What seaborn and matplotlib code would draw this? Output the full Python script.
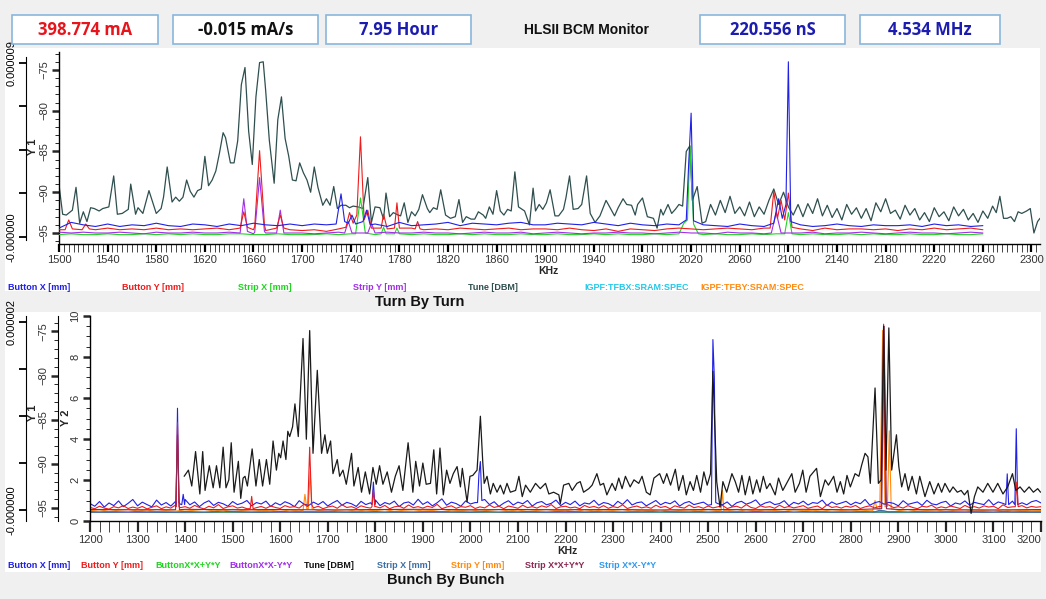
import numpy as np
import matplotlib
matplotlib.use("Agg")
import matplotlib.pyplot as plt
from matplotlib.patches import Rectangle
from matplotlib.ticker import MultipleLocator, FixedLocator
import seaborn as sns

sns.set_style("white")
plt.rcParams["font.family"] = ["Liberation Sans", "DejaVu Sans"]

# ---------------- header ----------------
header_values = ["398.774 mA", "-0.015 mA/s", "7.95 Hour", "220.556 nS", "4.534 MHz"]
header_title = "HLSII BCM Monitor"

# ---------------- Turn By Turn (top) ----------------
top_tune_f = [1500,1503,1506,1511,1514,1517,1520,1523,1526,1529,
              1533,1536,1541,1545,1548,1552,1557,1559,1563,1565,
              1569,1574,1580,1584,1586,1589,1593,1596,1599,1602,
              1605,1608,1611,1614,1617,1620,1623,1626,1629,1632,
              1635,1637,1641,1644,1647,1650,1653,1656,1659,1662,
              1665,1668,1670,1673,1677,1680,1683,1686,1689,1692,
              1695,1698,1701,1704,1707,1710,1713,1717,1720,1723,
              1726,1729,1732,1736,1739,1742,1746,1750,1754,1757,
              1760,1764,1767,1769,1772,1775,1779,1781,1784,1787,
              1790,1793,1796,1799,1803,1805,1808,1811,1814,1818,
              1822,1826,1829,1832,1835,1839,1842,1845,1849,1851,
              1854,1857,1860,1863,1866,1869,1872,1875,1878,1883,
              1887,1890,1892,1895,1898,1901,1904,1908,1911,1915,
              1917,1920,1923,1927,1930,1934,1937,1941,1945,1950,
              1953,1957,1960,1964,1967,1971,1974,1976,1980,1984,
              1989,1992,1995,1997,2001,2004,2007,2010,2013,2016,
              2019,2021,2025,2029,2032,2036,2040,2044,2048,2052,
              2056,2060,2064,2068,2072,2076,2080,2084,2088,2092,
              2096,2100,2104,2108,2112,2116,2120,2124,2128,2132,
              2136,2140,2144,2148,2152,2156,2160,2164,2168,2172,
              2176,2180,2184,2188,2192,2196,2200,2204,2208,2212,
              2216,2220,2224,2228,2232,2236,2240,2244,2248,2252,
              2256,2260,2264,2268,2271,2274,2277,2280,2283,2286,
              2289,2292,2296,2299,2302,2305,2307]
top_tune_db = [-89.1,-92.7,-92.8,-92.2,-89.4,-93.8,-92.4,-93.6,-91.9,-92.0,
               -92.3,-92.0,-91.8,-88.0,-92.7,-92.6,-92.1,-89.0,-92.7,-91.9,
               -92.6,-89.8,-92.6,-92.0,-90.6,-86.9,-91.2,-90.6,-91.1,-90.6,
               -88.5,-89.9,-90.6,-89.8,-89.6,-85.6,-89.2,-88.5,-87.4,-85.2,
               -82.7,-83.3,-86.4,-86.4,-83.7,-76.8,-74.7,-82.5,-86.6,-78.3,
               -74.1,-74.0,-77.5,-83.6,-88.9,-81.1,-78.3,-83.4,-85.6,-88.5,
               -88.6,-86.4,-87.6,-88.5,-90.0,-86.9,-89.4,-91.6,-90.8,-91.6,
               -89.3,-92.0,-91.6,-91.6,-91.9,-91.7,-91.8,-92.0,-88.2,-93.7,
               -91.8,-91.9,-93.3,-90.1,-93.0,-92.5,-92.8,-92.9,-91.3,-93.7,
               -92.4,-92.9,-92.1,-90.3,-92.0,-92.5,-91.9,-92.1,-89.7,-92.8,
               -93.2,-93.0,-90.9,-93.7,-93.0,-93.3,-93.3,-92.4,-92.8,-93.2,
               -91.8,-92.7,-89.8,-92.3,-92.8,-92.1,-92.3,-87.5,-91.8,-92.3,
               -94.0,-89.5,-92.3,-91.5,-92.1,-91.3,-89.7,-92.9,-92.9,-92.1,
               -90.7,-88.0,-92.1,-92.0,-91.5,-88.0,-92.6,-93.7,-92.9,-91.0,
               -91.8,-92.9,-91.9,-90.8,-91.5,-91.6,-92.8,-91.5,-90.7,-93.0,
               -93.2,-94.4,-92.1,-92.8,-91.5,-92.6,-92.1,-91.5,-91.7,-85.0,
               -84.3,-91.0,-89.3,-93.8,-93.6,-91.5,-92.8,-91.0,-92.5,-90.5,
               -92.6,-91.8,-92.9,-91.2,-93.0,-91.8,-92.7,-91.0,-89.6,-91.5,
               -90.0,-91.8,-92.8,-91.5,-93.0,-91.4,-92.6,-90.8,-92.9,-91.6,
               -93.1,-92.0,-93.4,-91.5,-92.7,-91.9,-93.2,-92.0,-93.5,-91.3,
               -92.4,-90.8,-92.6,-92.2,-93.3,-91.6,-92.8,-92.0,-93.4,-92.5,
               -93.6,-91.9,-93.0,-92.4,-93.5,-91.8,-92.9,-92.1,-93.4,-92.6,
               -93.7,-92.3,-93.2,-91.7,-92.5,-90.5,-93.2,-93.2,-93.0,-93.6,
               -92.4,-92.6,-92.3,-92.0,-95.0,-93.6,-93.2]

# baselines on a 10 kHz grid, 1500..2260 kHz
top_grid = np.arange(1500, 2270, 10)
top_bx_base = [-94.4,-93.7,-94.0,-94.2,-93.9,-94.2,-94.0,-94.1,-93.8,-94.1,
               -94.2,-93.9,-94.0,-94.2,-93.9,-94.1,-93.8,-94.0,-94.1,-93.9,
               -94.1,-93.9,-94.0,-93.8,-93.9,-94.0,-93.9,-94.2,-93.7,-94.1,
               -94.0,-93.9,-93.7,-94.1,-93.8,-93.9,-94.0,-93.8,-93.7,-94.0,
               -94.0,-93.8,-93.9,-94.0,-93.7,-93.9,-94.1,-93.8,-94.0,-94.1,
               -93.9,-94.0,-93.9,-94.0,-94.1,-94.2,-93.9,-94.1,-94.2,-94.0,
               -94.1,-94.0,-94.2,-94.1,-93.9,-94.1,-94.2,-94.0,-94.1,-94.1,
               -94.0,-94.2,-93.9,-94.1,-94.0,-94.2,-94.1]
top_by_base = [-94.6,-94.5,-94.3,-94.6,-94.4,-94.6,-94.5,-94.6,-94.4,-94.6,
               -94.5,-94.6,-94.5,-94.4,-94.6,-94.5,-94.6,-94.7,-94.5,-94.6,
               -94.7,-94.6,-94.8,-94.5,-94.6,-94.5,-94.4,-94.6,-94.5,-94.4,
               -94.6,-94.5,-94.6,-94.4,-94.5,-94.6,-94.5,-94.4,-94.6,-94.5,
               -94.5,-94.6,-94.4,-94.6,-94.7,-94.5,-94.8,-94.5,-94.6,-94.7,
               -94.5,-94.4,-94.5,-94.6,-94.5,-94.4,-94.5,-94.6,-94.4,-94.5,
               -94.6,-94.5,-94.7,-94.4,-94.6,-94.5,-94.5,-94.6,-94.5,-94.7,
               -94.5,-94.6,-94.4,-94.6,-94.5,-94.4,-94.6]
top_sx_base = [-95.2,-95.1,-95.2,-95.2,-95.1,-95.2,-95.2,-95.1,-95.2,-95.1,
               -95.2,-95.1,-95.2,-95.2,-95.1,-95.1,-95.2,-95.2,-95.1,-95.2,
               -95.2,-95.2,-95.1,-95.2,-95.1,-95.2,-95.2,-95.1,-95.2,-95.2,
               -95.1,-95.2,-95.2,-95.1,-95.2,-95.1,-95.2,-95.2,-95.1,-95.2,
               -95.2,-95.1,-95.2,-95.2,-95.1,-95.2,-95.1,-95.2,-95.2,-95.1,
               -95.2,-95.1,-95.2,-95.2,-95.1,-95.2,-95.2,-95.1,-95.2,-95.1,
               -95.2,-95.2,-95.1,-95.2,-95.2,-95.1,-95.2,-95.1,-95.2,-95.2,
               -95.1,-95.2,-95.2,-95.1,-95.2,-95.2,-95.1]
top_sy_base = [-94.9,-95.0,-94.9,-95.0,-95.0,-94.9,-95.0,-95.1,-94.9,-95.0,
               -95.0,-94.9,-95.0,-95.0,-94.9,-95.0,-95.1,-95.0,-94.9,-95.0,
               -95.0,-95.1,-95.0,-94.9,-95.0,-95.0,-95.1,-94.9,-95.0,-95.0,
               -94.9,-95.0,-95.0,-95.1,-95.0,-94.9,-95.0,-95.0,-94.9,-95.1,
               -95.0,-94.9,-95.0,-95.1,-95.0,-95.0,-94.9,-95.0,-95.0,-95.1,
               -95.0,-94.9,-95.0,-95.0,-95.1,-94.9,-95.0,-95.0,-95.1,-94.9,
               -95.0,-95.0,-94.9,-95.1,-95.0,-95.0,-94.9,-95.0,-95.1,-95.0,
               -94.9,-95.0,-95.0,-95.1,-95.0,-94.9,-95.0]

# spectral lines (frequency groups / values)
top_bx_pk_f = [[1728,1732,1735],[1738,1741,1744],[1750,1753,1756],
               [2016,2018,2020,2022],[2088,2092,2095,2098,2100,2102]]
top_bx_pk_v = [[-93.9,-90.2,-93.6],[-93.8,-92.8,-93.9],[-93.6,-92.2,-94.0],
               [-93.4,-86.5,-80.3,-93.5],[-93.8,-90.8,-93.2,-91.5,-74.0,-93.6]]
top_by_pk_f = [[1505,1508,1511],[1519,1522,1525],[1649,1652,1655],[1661,1665,1669],
               [1679,1682,1685],[1736,1739,1742,1745,1748,1751,1754,1757],
               [1765,1767,1770],[1776,1778,1780],[1793,1795,1797],
               [2085,2088,2091,2094,2097,2100,2103]]
top_by_pk_v = [[-94.6,-93.4,-94.5],[-94.6,-93.9,-94.5],[-94.4,-92.4,-94.3],[-94.2,-84.9,-94.0],
               [-94.4,-92.8,-94.4],[-94.3,-92.5,-93.8,-92.8,-83.2,-93.4,-92.2,-94.4],
               [-94.4,-92.7,-94.5],[-94.4,-91.3,-94.4],[-94.5,-93.6,-94.5],
               [-94.4,-89.9,-93.2,-91.0,-93.4,-90.1,-94.3]]
top_sx_pk_f = [[1744,1748,1752],[1765,1767,1769],[1776,1778,1780],
               [2010,2014,2017,2019,2022,2026],[2097,2100,2103]]
top_sx_pk_v = [[-95.1,-90.7,-95.0],[-95.1,-94.3,-95.1],[-95.1,-94.4,-95.1],
               [-95.1,-93.8,-93.4,-84.4,-93.9,-95.1],[-95.1,-92.5,-95.1]]
top_sy_pk_f = [[1649,1652,1655],[1661,1665,1669],[1679,1682,1685],
               [1735,1738,1741],[1754,1757,1760],[2086,2090,2094]]
top_sy_pk_v = [[-95.0,-90.8,-94.8],[-94.9,-88.2,-94.8],[-95.0,-92.2,-95.0],
               [-95.0,-93.6,-95.0],[-95.0,-93.8,-95.0],[-95.0,-92.5,-95.0]]
top_xticks = list(range(1500, 2301, 40))

# ---------------- Bunch By Bunch (bottom) ----------------
bot_tune_f = [1398,1407,1414,1422,1431,1437,1442,1451,1459,1466,
              1473,1480,1486,1492,1497,1503,1512,1517,1522,1526,
              1531,1541,1549,1556,1563,1571,1578,1585,1592,1597,
              1601,1606,1612,1616,1620,1626,1631,1638,1648,1655,
              1662,1669,1678,1687,1694,1699,1706,1711,1720,1725,
              1732,1739,1750,1755,1764,1771,1779,1788,1795,1802,
              1809,1816,1825,1834,1842,1850,1858,1869,1879,1885,
              1893,1900,1907,1916,1923,1929,1936,1943,1950,1957,
              1964,1972,1979,1983,1993,1999,2005,2014,2021,2026,
              2029,2035,2042,2048,2056,2063,2070,2077,2084,2095,
              2102,2109,2116,2126,2137,2147,2158,2165,2175,2186,
              2189,2196,2207,2214,2224,2231,2238,2249,2256,2266,
              2273,2280,2287,2298,2305,2312,2319,2326,2336,2344,
              2354,2361,2370,2378,2386,2398,2406,2413,2421,2431,
              2438,2447,2454,2462,2469,2476,2484,2491,2498,2505,
              2510,2518,2525,2531,2539,2550,2557,2564,2571,2578,
              2587,2594,2602,2609,2616,2623,2630,2641,2648,2657,
              2665,2676,2683,2692,2699,2706,2714,2728,2736,2746,
              2753,2764,2771,2778,2785,2792,2799,2809,2817,2823,
              2830,2836,2841,2846,2851,2858,2864,2869,2874,2880,
              2886,2896,2901,2907,2914,2921,2929,2938,2945,2956,
              2966,2975,2984,2991,2998,3008,3015,3024,3032,3039,
              3046,3053,3060,3067,3078,3088,3099,3109,3120,3130,
              3140,3147,3156,3165,3175,3184,3193,3199]
bot_tune_db = [-91.4,-90.7,-92.5,-88.6,-93.4,-88.6,-93.0,-90.2,-92.7,-90.2,
               -92.7,-88.1,-92.7,-91.8,-87.6,-93.2,-89.7,-93.9,-91.6,-91.4,
               -92.5,-88.3,-92.5,-89.5,-92.5,-89.5,-92.3,-87.4,-90.7,-88.8,
               -89.3,-87.4,-89.5,-86.3,-86.9,-85.8,-83.2,-86.9,-75.8,-87.2,
               -74.9,-88.8,-79.4,-88.8,-86.7,-88.8,-87.4,-91.1,-89.5,-91.4,
               -90.7,-92.3,-88.8,-92.5,-90.4,-93.2,-90.9,-93.4,-90.4,-92.3,
               -90.2,-92.3,-90.9,-93.2,-91.4,-90.2,-93.0,-87.6,-93.2,-89.7,
               -92.5,-89.9,-92.3,-92.2,-88.4,-93.4,-88.2,-93.5,-90.7,-92.2,
               -91.1,-90.3,-92.6,-90.5,-94.3,-91.4,-91.3,-90.7,-84.6,-89.8,
               -92.2,-91.4,-93.4,-92.2,-93.2,-92.4,-93.4,-92.2,-93.2,-93.0,
               -91.4,-93.7,-92.4,-93.2,-92.2,-92.8,-92.2,-93.4,-93.2,-93.5,
               -94.5,-92.4,-92.2,-93.0,-92.2,-92.0,-93.2,-92.8,-92.4,-91.1,
               -92.4,-92.2,-93.5,-92.2,-93.0,-91.6,-92.8,-91.4,-92.6,-91.8,
               -92.2,-91.4,-93.2,-93.5,-91.6,-91.1,-92.2,-91.1,-92.4,-90.6,
               -93.0,-91.3,-93.5,-92.0,-93.0,-91.3,-93.2,-90.9,-92.4,-91.1,
               -79.5,-92.0,-94.9,-92.0,-93.2,-91.1,-92.0,-93.2,-91.3,-93.5,
               -91.4,-93.4,-91.8,-93.2,-91.4,-92.8,-92.2,-93.5,-91.6,-93.0,
               -92.2,-91.1,-93.2,-92.2,-90.7,-93.2,-91.4,-90.5,-93.7,-91.8,
               -92.4,-91.4,-93.2,-92.0,-93.4,-91.3,-92.6,-91.1,-91.4,-90.1,
               -88.8,-89.2,-92.2,-86.9,-81.4,-92.2,-91.8,-74.4,-90.7,-74.6,
               -90.7,-86.7,-90.3,-92.6,-91.1,-93.0,-91.4,-93.4,-91.4,-93.7,
               -92.0,-93.4,-92.2,-93.2,-92.2,-93.2,-92.6,-93.2,-93.0,-93.5,
               -93.0,-95.6,-93.7,-92.6,-93.2,-92.2,-93.2,-92.2,-93.4,-92.6,
               -91.1,-93.0,-92.6,-93.2,-92.6,-93.2,-92.8,-93.2]

bot_grid10 = np.arange(1200, 3210, 10)
bot_grid20 = np.arange(1200, 3210, 20)
bot_grid40 = np.arange(1200, 3210, 40)
bot_grid100 = np.arange(1200, 3210, 100)

bot_bx_base = [0.85,0.72,0.95,0.68,0.88,0.75,0.98,0.70,0.86,1.05,
               0.74,0.92,0.80,0.69,1.02,0.78,0.90,0.73,0.96,0.82,
               1.05,0.79,0.93,0.70,0.88,0.99,0.76,0.91,0.84,0.72,
               0.95,0.80,0.87,1.00,0.74,0.90,0.83,0.97,0.71,0.89,
               0.78,0.94,0.85,0.70,0.99,0.82,0.76,0.92,0.80,0.95,
               0.73,0.88,1.00,0.77,0.91,0.84,0.71,0.96,0.80,0.89,
               1.03,0.75,0.90,0.82,0.97,0.70,0.88,0.93,0.78,1.06,
               0.81,0.94,0.74,0.89,1.08,0.77,0.92,0.85,0.72,0.98,
               0.83,0.90,0.76,1.05,0.80,0.94,0.71,0.87,0.99,0.78,
               0.92,0.84,1.00,0.73,0.89,0.95,0.79,0.86,1.02,0.75,
               0.91,0.80,0.97,0.74,0.88,0.83,1.01,0.77,0.90,0.85,
               0.72,0.96,0.81,1.04,0.78,0.89,0.93,0.74,0.87,1.00,
               0.79,0.91,0.84,0.98,0.73,0.88,0.95,0.80,0.86,0.92,
               0.77,1.00,0.85,0.79,0.93,0.71,0.89,0.96,0.82,0.90,
               1.03,0.76,0.88,0.94,0.80,0.85,0.99,0.74,0.91,0.83,
               0.97,0.78,0.90,0.86,1.02,0.75,0.93,0.81,0.88,0.96,
               0.79,0.92,0.84,1.05,0.77,0.89,0.95,0.82,0.91,0.86,
               0.74,0.99,0.81,0.87,0.93,0.76,1.01,0.84,0.79,0.90,
               0.96,0.73,0.88,0.82,0.98,0.77,0.91,0.85,0.80,1.04,
               0.78,0.93,0.86,0.75,0.97,0.82,0.89,0.79,0.94,1.00,
               0.88]
bot_by_base = [0.66,0.60,0.72,0.63,0.58,0.70,0.64,0.75,0.61,0.68,
               0.62,0.71,0.59,0.67,0.74,0.60,0.69,0.63,0.78,0.65,
               0.70,0.62,0.76,0.66,0.59,0.72,0.64,0.80,0.61,0.69,
               0.74,0.63,0.68,0.60,0.77,0.65,0.71,0.62,0.73,0.66,
               0.61,0.75,0.67,0.70,0.63,0.82,0.69,0.64,0.72,0.60,
               0.68,0.73,0.62,0.79,0.66,0.70,0.61,0.74,0.67,0.63,
               0.71,0.64,0.76,0.60,0.69,0.73,0.62,0.78,0.65,0.70,
               0.63,0.72,0.66,0.81,0.60,0.68,0.74,0.62,0.70,0.67,
               0.75,0.61,0.69,0.64,0.78,0.66,0.72,0.60,0.73,0.68,
               0.62,0.77,0.65,0.70,0.63,0.74,0.67,0.80,0.61,0.69,
               0.72,0.64,0.68,0.60,0.76,0.66,0.71,0.63,0.75,0.62,
               0.70,0.65,0.79,0.61,0.68,0.73,0.64,0.69,0.62,0.77,
               0.66,0.71,0.60,0.74,0.67,0.63,0.78,0.65,0.70,0.62,
               0.73,0.64,0.69,0.76,0.61,0.68,0.72,0.63,0.80,0.66,
               0.61,0.74,0.67,0.70,0.62,0.77,0.65,0.71,0.64,0.69,
               0.75,0.62,0.68,0.73,0.60,0.79,0.66,0.70,0.63,0.72,
               0.67,0.76,0.61,0.69,0.74,0.64,0.71,0.62,0.78,0.65,
               0.70,0.63,0.75,0.66,0.60,0.72,0.68,0.77,0.62,0.69,
               0.64,0.73,0.67,0.61,0.76,0.65,0.70,0.63,0.74,0.68,
               0.72,0.60,0.79,0.66,0.69,0.62,0.75,0.64,0.71,0.67,
               0.70]
bot_sy_base = [0.52,0.48,0.55,0.50,0.47,0.53,0.49,0.56,0.51,0.48,
               0.54,0.50,0.46,0.53,0.49,0.57,0.51,0.48,0.52,0.50,
               0.55,0.49,0.53,0.47,0.51,0.56,0.50,0.48,0.54,0.49,
               0.52,0.47,0.55,0.50,0.48,0.53,0.51,0.57,0.49,0.52,
               0.48,0.54,0.50,0.46,0.53,0.49,0.55,0.51,0.47,0.52,
               0.50,0.56,0.48,0.53,0.49,0.51,0.47,0.54,0.50,0.52,
               0.48,0.55,0.51,0.49,0.53,0.47,0.52,0.50,0.56,0.48,
               0.53,0.49,0.51,0.55,0.47,0.52,0.50,0.54,0.48,0.51,
               0.49,0.53,0.50,0.56,0.48,0.52,0.47,0.54,0.51,0.49,
               0.55,0.50,0.48,0.53,0.51,0.47,0.54,0.49,0.52,0.50,
               0.51]
bot_sx_base = [0.45,0.43,0.46,0.44,0.42,0.45,0.43,0.47,0.44,0.42,
               0.46,0.44,0.43,0.45,0.42,0.46,0.44,0.43,0.45,0.44,
               0.42,0.46,0.43,0.45,0.44,0.47,0.43,0.45,0.42,0.44,
               0.46,0.43,0.45,0.44,0.42,0.46,0.43,0.48,0.45,0.43,
               0.44,0.46,0.42,0.45,0.43,0.44,0.46,0.43,0.45,0.44,
               0.43]
bot_bsum_base = [0.42,0.43,0.41,0.42,0.43,0.42,0.41,0.43,0.42,0.42,0.41,
                 0.43,0.42,0.41,0.42,0.43,0.42,0.41,0.42,0.43,0.42]
bot_bdif_base = [0.44,0.43,0.44,0.45,0.43,0.44,0.44,0.43,0.45,0.44,0.43,
                 0.44,0.45,0.44,0.43,0.44,0.44,0.45,0.43,0.44,0.44]
bot_ssum_base = [0.56,0.55,0.57,0.55,0.56,0.54,0.56,0.57,0.55,0.56,0.55,
                 0.56,0.54,0.56,0.55,0.57,0.55,0.56,0.55,0.54,0.56]
bot_sdif_base = [0.46,0.45,0.46,0.47,0.45,0.46,0.45,0.46,0.47,0.46,0.45,
                 0.46,0.45,0.47,0.46,0.45,0.46,0.46,0.45,0.47,0.46]

bot_bx_pk_f = [[1381,1384,1387],[1393,1396,1399],[1793,1796,1799],[2015,2018,2021,2024],
               [2507,2510,2513,2516],[3126,3129,3132],[3145,3148,3151]]
bot_bx_pk_v = [[0.8,5.5,0.9],[0.8,1.3,0.8],[0.8,1.9,0.8],[0.9,2.3,2.9,1.0],
               [0.8,8.85,7.0,0.9],[0.8,2.3,0.8],[0.8,4.5,0.8]]
bot_by_pk_f = [[1381,1384,1387],[1537,1540,1543],[1658,1662,1666],[1793,1796,1799],
               [2864,2869,2873],[3146,3149,3152]]
bot_by_pk_v = [[0.7,4.8,0.7],[0.6,1.2,0.6],[0.7,3.6,0.8],[0.7,1.5,0.7],
               [0.7,9.6,0.8],[0.7,1.9,0.7]]
bot_sy_pk_f = [[1648,1652,1656,1659,1663,1667],[2527,2530,2533],
               [2846,2851,2855,2861,2867,2872,2877,2881,2885]]
bot_sy_pk_v = [[0.5,1.3,0.6,0.6,2.4,0.6],[0.5,1.5,0.5],
               [0.5,1.0,0.6,0.6,9.3,0.7,0.7,4.4,0.6]]
bot_ssum_pk_f = [[1380,1384,1388],[2865,2870,2875]]
bot_ssum_pk_v = [[0.55,4.2,0.55],[0.6,9.5,0.6]]
bot_sx_pk_f = [[2850,2860,2870,2880]]
bot_sx_pk_v = [[0.44,0.52,0.50,0.44]]
bot_xticks = list(range(1200, 3201, 100))

top_legend = ["Button X [mm]", "Button Y [mm]", "Strip X [mm]", "Strip Y [mm]",
              "Tune [DBM]", "IGPF:TFBX:SRAM:SPEC", "IGPF:TFBY:SRAM:SPEC"]
bot_legend = ["Button X [mm]", "Button Y [mm]", "ButtonX*X+Y*Y", "ButtonX*X-Y*Y",
              "Tune [DBM]", "Strip X [mm]", "Strip Y [mm]", "Strip X*X+Y*Y", "Strip X*X-Y*Y"]

# ---------------- styling ----------------
C_BX, C_BY, C_SX, C_SY = "#2020e6", "#ee1c1c", "#22d422", "#a030e6"
C_TUNE_T, C_TUNE_B = "#2f4f4f", "#1a1a1a"
C_CYAN, C_ORANGE = "#22c8e8", "#ff8a10"
C_STEEL, C_MAROON, C_LBLUE = "#3c6fa6", "#8b2a55", "#3399ee"
top_legend_colors = [C_BX, C_BY, C_SX, C_SY, C_TUNE_T, C_CYAN, C_ORANGE]
bot_legend_colors = [C_BX, C_BY, C_SX, C_SY, "#111111", C_STEEL, C_ORANGE, C_MAROON, C_LBLUE]

W, H = 1046, 599
fig = plt.figure(figsize=(W / 100, H / 100), dpi=100, facecolor="#f0f0f0")


def fx(x):
    return x / W


def fy(y):
    return 1 - y / H


def rect(l, t, r, b):
    return [l / W, 1 - b / H, (r - l) / W, (b - t) / H]


def merge(grid, base, groups_f, groups_v):
    spans = [(min(g), max(g)) for g in groups_f]
    keep = [i for i, g in enumerate(grid) if not any(lo <= g <= hi for lo, hi in spans)]
    f = [float(grid[i]) for i in keep]
    v = [float(base[i]) for i in keep]
    for gf, gv in zip(groups_f, groups_v):
        f += list(gf)
        v += list(gv)
    order = np.argsort(f, kind="stable")
    return np.asarray(f)[order], np.asarray(v)[order]


def draw(ax, f, v, color, lw=0.8, z=2):
    sns.lineplot(x=np.asarray(f, float), y=np.asarray(v, float), ax=ax, color=color,
                 linewidth=lw, estimator=None, sort=False, legend=False, zorder=z)


# white panels and header
fig.add_artist(Rectangle((fx(5), fy(291)), 1035 / W, 243 / H, transform=fig.transFigure,
                         facecolor="white", edgecolor="none", zorder=-10))
fig.add_artist(Rectangle((fx(5), fy(572)), 1036 / W, 260 / H, transform=fig.transFigure,
                         facecolor="white", edgecolor="none", zorder=-10))
boxes = [(12, 158), (173, 318), (326, 471), (700, 845), (860, 1000)]
box_colors = ["#e8141c", "#111111", "#1c1cb0", "#1c1cb0", "#1c1cb0"]
for (l, r), txt, col in zip(boxes, header_values, box_colors):
    fig.add_artist(Rectangle((fx(l), fy(44)), (r - l) / W, 29 / H, transform=fig.transFigure,
                             facecolor="white", edgecolor="#8ab6dc", linewidth=1.2))
    fig.text(fx((l + r) / 2), fy(30), txt, ha="center", va="center", color=col,
             fontsize=12, fontweight="bold", family=["Open Sans", "DejaVu Sans"])
fig.text(fx(586), fy(30), header_title, ha="center", va="center", color="#111111",
         fontsize=10, fontweight="bold")


def style_axis(ax):
    for s in ("top", "right"):
        ax.spines[s].set_visible(False)
    for s in ("left", "bottom"):
        ax.spines[s].set_color("black")
        ax.spines[s].set_linewidth(1.0)
    ax.set_facecolor("none")
    ax.set_xlabel("")
    ax.set_ylabel("")


def outer_axis(host, offset_pt, ylim, ticks, labels, bounds=None):
    t = host.twinx()
    t.set_ylim(*ylim)
    for s in ("top", "right", "bottom"):
        t.spines[s].set_visible(False)
    t.spines["left"].set_visible(True)
    t.spines["left"].set_position(("outward", offset_pt))
    t.spines["left"].set_color("black")
    t.yaxis.set_ticks_position("left")
    t.yaxis.set_label_position("left")
    if bounds is not None:
        t.spines["left"].set_bounds(*bounds)
    t.set_yticks(ticks)
    t.set_yticklabels(labels)
    t.tick_params(axis="y", which="major", length=5, width=1.3, labelsize=8, pad=2,
                  labelrotation=90, colors="black")
    for lab in t.get_yticklabels():
        lab.set_va("center")
    t.set_ylabel("")
    return t


# ---------------- top chart ----------------
ax_t = fig.add_axes(rect(59, 52, 1040, 244))
draw(ax_t, top_tune_f, top_tune_db, C_TUNE_T, lw=0.9, z=2)
for base, pf, pv, col in [(top_sx_base, top_sx_pk_f, top_sx_pk_v, C_SX),
                          (top_sy_base, top_sy_pk_f, top_sy_pk_v, C_SY),
                          (top_by_base, top_by_pk_f, top_by_pk_v, C_BY),
                          (top_bx_base, top_bx_pk_f, top_bx_pk_v, C_BX)]:
    f, v = merge(top_grid, base, pf, pv)
    draw(ax_t, f, v, col, lw=0.8, z=3)
style_axis(ax_t)
ax_t.set_xlim(1500, 2307)
ax_t.set_ylim(-96.35, -72.8)
ax_t.xaxis.set_major_locator(FixedLocator(top_xticks))
ax_t.xaxis.set_minor_locator(MultipleLocator(4))
ax_t.yaxis.set_major_locator(MultipleLocator(5))
ax_t.yaxis.set_minor_locator(MultipleLocator(1))
ax_t.tick_params(axis="x", which="major", length=6, width=1.6, labelsize=8, pad=2,
                 direction="out", bottom=True, colors="black")
ax_t.tick_params(axis="x", which="minor", length=6, width=0.6, direction="out", bottom=True)
ax_t.tick_params(axis="y", which="major", length=5, width=1.8, labelsize=8, pad=2,
                 labelrotation=90, direction="out", left=True)
ax_t.tick_params(axis="y", which="minor", length=3, width=0.7, direction="out", left=True)
for lab in ax_t.get_yticklabels():
    lab.set_va("center")
for lab in ax_t.get_xticklabels() + ax_t.get_yticklabels():
    lab.set_color("#333333")
outer_axis(ax_t, 23.8, (-3.6e-7, 9.56e-6), [0, 2.25e-6, 4.5e-6, 6.75e-6, 9e-6],
           ["-0.000000", "", "", "", "0.000009"], bounds=(-1.6e-7, 9.3e-6))

fig.text(fx(33), fy(147), "Y 1", rotation=90, ha="center", va="center",
         fontsize=8, fontweight="bold")
fig.text(fx(548), fy(271), "KHz", ha="center", va="center", fontsize=7.5, fontweight="bold")
top_leg_x = [8, 122, 238, 353, 468, 584, 700]
for x, lbl, col in zip(top_leg_x, top_legend, top_legend_colors):
    fig.text(fx(x), fy(287), lbl, ha="left", va="center", color=col, fontsize=6.5,
             fontweight="bold")
fig.text(fx(420), fy(302), "Turn By Turn", ha="center", va="center", fontsize=10.5,
         fontweight="bold", color="#111111")

# ---------------- bottom chart ----------------
BOT_XMAX = 3200
ax_b = fig.add_axes(rect(90, 316, 1041, 521))
for grid, base, pf, pv, col in [
        (bot_grid100, bot_bsum_base, [], [], C_SX),
        (bot_grid100, bot_bdif_base, [], [], C_SY),
        (bot_grid100, bot_sdif_base, [], [], C_LBLUE),
        (bot_grid40, bot_sx_base, bot_sx_pk_f, bot_sx_pk_v, C_STEEL),
        (bot_grid20, bot_sy_base, bot_sy_pk_f, bot_sy_pk_v, C_ORANGE),
        (bot_grid10, bot_bx_base, bot_bx_pk_f, bot_bx_pk_v, C_BX),
        (bot_grid10, bot_by_base, bot_by_pk_f, bot_by_pk_v, C_BY),
        (bot_grid100, bot_ssum_base, bot_ssum_pk_f, bot_ssum_pk_v, C_MAROON)]:
    f, v = merge(grid, base, pf, pv)
    draw(ax_b, f, v, col, lw=0.8, z=2)
style_axis(ax_b)
ax_b.set_xlim(1200, BOT_XMAX)
ax_b.set_ylim(0, 10)
ax_b.xaxis.set_major_locator(FixedLocator(bot_xticks))
ax_b.xaxis.set_minor_locator(MultipleLocator(20))
ax_b.yaxis.set_major_locator(MultipleLocator(2))
ax_b.yaxis.set_minor_locator(MultipleLocator(0.5))
ax_b.tick_params(axis="x", which="major", length=8, width=1.6, labelsize=8, pad=2,
                 direction="out", bottom=True)
ax_b.tick_params(axis="x", which="minor", length=8, width=0.6, direction="out", bottom=True)
ax_b.tick_params(axis="y", which="major", length=5, width=1.8, labelsize=8, pad=2,
                 labelrotation=90, direction="out", left=True)
ax_b.tick_params(axis="y", which="minor", length=3, width=0.7, direction="out", left=True)

ax_b1 = ax_b.twinx()
draw(ax_b1, bot_tune_f, bot_tune_db, C_TUNE_B, lw=0.9, z=3)
ax_b1.set_ylim(-96.46, -73.25)
ax_b1.set_xlim(1200, BOT_XMAX)
for s in ("top", "right", "bottom"):
    ax_b1.spines[s].set_visible(False)
ax_b1.spines["left"].set_visible(True)
ax_b1.spines["left"].set_position(("outward", 23))
ax_b1.spines["left"].set_color("black")
ax_b1.yaxis.set_ticks_position("left")
ax_b1.yaxis.set_major_locator(MultipleLocator(5))
ax_b1.yaxis.set_minor_locator(MultipleLocator(1))
ax_b1.tick_params(axis="y", which="major", length=5, width=1.8, labelsize=8, pad=2,
                  labelrotation=90, direction="out")
ax_b1.tick_params(axis="y", which="minor", length=3, width=0.7, direction="out")
ax_b1.set_ylabel("")
ax_b1.set_xlabel("")

outer_axis(ax_b, 46, (-1.18e-7, 2.065e-6), [0, 0.5e-6, 1e-6, 1.5e-6, 2e-6],
           ["-0.000000", "", "", "", "0.000002"])

fig.text(fx(33), fy(413), "Y 1", rotation=90, ha="center", va="center",
         fontsize=8, fontweight="bold")
fig.text(fx(66), fy(418), "Y 2", rotation=90, ha="center", va="center",
         fontsize=8, fontweight="bold")
fig.text(fx(567), fy(551), "KHz", ha="center", va="center", fontsize=7.5, fontweight="bold")
bot_leg_x = [8, 81, 155, 229, 304, 377, 451, 525, 599]
for x, lbl, col in zip(bot_leg_x, bot_legend, bot_legend_colors):
    fig.text(fx(x), fy(565), lbl, ha="left", va="center", color=col, fontsize=6.5,
             fontweight="bold")
fig.text(fx(446), fy(580), "Bunch By Bunch", ha="center", va="center", fontsize=10.5,
         fontweight="bold", color="#111111")

# finalize tick label styling after a first draw
fig.canvas.draw()
for ax in (ax_b, ax_b1):
    for lab in ax.get_yticklabels():
        lab.set_va("center")
        lab.set_color("#333333")
xlabs = ax_b.get_xticklabels()
for lab in xlabs:
    lab.set_color("#333333")
xlabs[-1].set_horizontalalignment("right")

fig.savefig("out.png", dpi=100, facecolor=fig.get_facecolor())
